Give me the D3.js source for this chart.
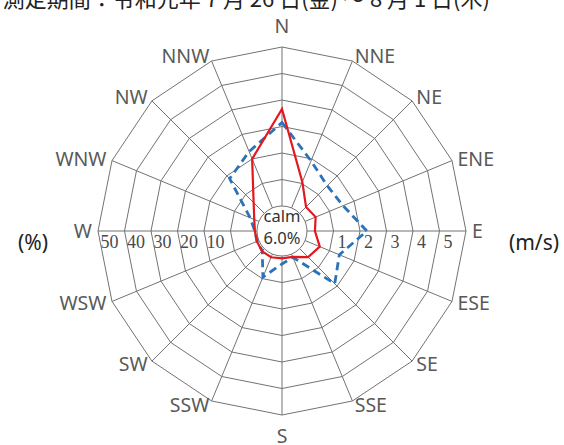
<!DOCTYPE html>
<html>
<head>
<meta charset="utf-8">
<script src="https://cdn.jsdelivr.net/npm/d3@7"></script>
<style>
    body { margin: 0; background: #fff; }
    #rose { width: 564px; height: 445px; }
    .grid { fill: none; stroke: #737373; stroke-width: 1; }
    .dir-label { font-family: "Noto Sans", sans-serif; font-size: 19.5px; fill: #595959; }
    .tick-label { font-family: "Liberation Serif", serif; font-size: 18px; fill: #4a4a4a; }
    .unit-label { font-family: "Noto Sans", sans-serif; font-size: 21px; fill: #222; }
    .calm-label { font-family: "Noto Sans", sans-serif; font-size: 16.5px; fill: #333; }
    .title { font-family: "Noto Sans CJK JP", sans-serif; font-size: 22px; fill: #222; }
</style>
</head>
<body>
<div id="rose"></div>
<script>
// 16 wind directions, clockwise from north
const directions = ["N", "NNE", "NE", "ENE", "E", "ESE", "SE", "SSE",
                    "S", "SSW", "SW", "WSW", "W", "WNW", "NW", "NNW"];
// frequency of each direction (%)
const freqValues = [36.6, 10.6, 3.4, 4.3, 3.0, 6.0, 4.5, 1.1,
                    0.9, 1.3, 1.3, 0.8, 0.8, 1.9, 5.7, 20.0];
// mean wind speed of each direction (m/s)
const speedValues = [3.15, 1.92, 1.47, 1.55, 2.26, 1.40, 1.87, 0.13,
                     0.30, 0.94, 0.11, 0.08, 0.08, 0.36, 1.85, 2.30];
const pctTicks = [10, 20, 30, 40, 50];
const speedTicks = [1, 2, 3, 4, 5];
const calmPct = 6.0;
const titleText = "測定期間：令和元年 7 月 26 日(金) ～ 8 月 1 日(木)";

class WindRose {

    constructor(parentElement) {
        this.parentElement = parentElement;
        this.initVis();
    }

    initVis() {
        let vis = this;

        vis.width = 564;
        vis.height = 445;
        vis.cx = 282;
        vis.cy = 231;
        vis.r0 = 25;      // calm circle
        vis.R = 184;      // outer ring

        vis.svg = d3.select("#" + vis.parentElement).append("svg")
            .attr("width", vis.width)
            .attr("height", vis.height);

        // title, clipped at the top like the original
        vis.svg.append("text")
            .attr("class", "title")
            .attr("x", 490)
            .attr("y", 7)
            .attr("text-anchor", "end")
            .text(titleText);

        vis.g = vis.svg.append("g")
            .attr("transform", `translate(${vis.cx}, ${vis.cy})`);

        vis.angle = d3.scaleLinear()
            .domain([0, directions.length])
            .range([0, 2 * Math.PI]);

        vis.rSpeed = d3.scaleLinear()
            .domain([0, 6])
            .range([vis.r0, vis.R]);

        vis.rPct = d3.scaleLinear()
            .domain([0, 60])
            .range([vis.r0, vis.R]);

        this.wrangleData();
    }

    wrangleData() {
        let vis = this;

        vis.rows = directions.map((d, i) => ({
            dir: d,
            i: i,
            freq: freqValues[i],
            speed: speedValues[i]
        }));

        vis.updateVis();
    }

    updateVis() {
        let vis = this;
        let pt = (i, r) => [r * Math.sin(vis.angle(i)), -r * Math.cos(vis.angle(i))];

        // ring polygons
        let ring = r => d3.lineRadial()
            .angle(d => vis.angle(d.i))
            .radius(r)
            .curve(d3.curveLinearClosed)(vis.rows);

        vis.g.selectAll(".ring")
            .data(d3.range(1, 7))
            .enter()
            .append("path")
            .attr("class", "grid ring")
            .attr("d", k => ring(vis.rSpeed(k)));

        // spokes
        vis.g.selectAll(".spoke")
            .data(vis.rows)
            .enter()
            .append("line")
            .attr("class", "grid spoke")
            .attr("x1", d => pt(d.i, vis.r0)[0])
            .attr("y1", d => pt(d.i, vis.r0)[1])
            .attr("x2", d => pt(d.i, vis.R)[0])
            .attr("y2", d => pt(d.i, vis.R)[1]);

        // calm circle
        vis.g.append("circle")
            .attr("class", "grid")
            .attr("r", vis.r0)
            .style("fill", "#fff");

        // direction labels
        vis.g.selectAll(".dir-label")
            .data(vis.rows)
            .enter()
            .append("text")
            .attr("class", "dir-label")
            .attr("x", d => {
                let s = Math.sin(vis.angle(d.i));
                return Math.abs(s) < 0.01 ? 0 : pt(d.i, vis.R + 6)[0];
            })
            .attr("y", d => {
                let s = Math.sin(vis.angle(d.i));
                return Math.abs(s) < 0.01 ? pt(d.i, vis.R + 21)[1] : pt(d.i, vis.R + 5)[1];
            })
            .attr("dy", "0.35em")
            .attr("text-anchor", d => {
                let s = Math.sin(vis.angle(d.i));
                return Math.abs(s) < 0.01 ? "middle" : (s > 0 ? "start" : "end");
            })
            .text(d => d.dir);

        // speed tick labels (east side)
        vis.g.selectAll(".speed-tick")
            .data(speedTicks)
            .enter()
            .append("text")
            .attr("class", "tick-label speed-tick")
            .attr("x", d => vis.rSpeed(d) + 4)
            .attr("y", 17)
            .text(d => d);

        // percent tick labels (west side)
        vis.g.selectAll(".pct-tick")
            .data(pctTicks)
            .enter()
            .append("text")
            .attr("class", "tick-label pct-tick")
            .attr("x", d => -vis.rPct(d) - 6)
            .attr("y", 17)
            .attr("text-anchor", "end")
            .text(d => d);

        // unit labels
        vis.g.append("text")
            .attr("class", "unit-label")
            .attr("x", -249)
            .attr("y", 12)
            .attr("dy", "0.35em")
            .attr("text-anchor", "middle")
            .text("(%)");

        vis.g.append("text")
            .attr("class", "unit-label")
            .attr("x", 252)
            .attr("y", 12)
            .attr("dy", "0.35em")
            .attr("text-anchor", "middle")
            .text("(m/s)");

        // speed (dashed blue)
        vis.g.append("path")
            .datum(vis.rows)
            .attr("fill", "none")
            .attr("stroke", "#2b73b8")
            .attr("stroke-width", 2.8)
            .attr("stroke-dasharray", "8,5")
            .attr("d", d3.lineRadial()
                .angle(d => vis.angle(d.i))
                .radius(d => vis.rSpeed(d.speed))
                .curve(d3.curveLinearClosed));

        // frequency (solid red)
        vis.g.append("path")
            .datum(vis.rows)
            .attr("fill", "none")
            .attr("stroke", "#e3171e")
            .attr("stroke-width", 2.2)
            .attr("stroke-linejoin", "miter")
            .attr("d", d3.lineRadial()
                .angle(d => vis.angle(d.i))
                .radius(d => vis.rPct(d.freq))
                .curve(d3.curveLinearClosed));

        // calm text
        vis.g.append("text")
            .attr("class", "calm-label")
            .attr("y", -9)
            .attr("text-anchor", "middle")
            .text("calm");

        vis.g.append("text")
            .attr("class", "calm-label")
            .attr("y", 13)
            .attr("text-anchor", "middle")
            .text(calmPct.toFixed(1) + "%");
    }
}

new WindRose("rose");
</script>
</body>
</html>
